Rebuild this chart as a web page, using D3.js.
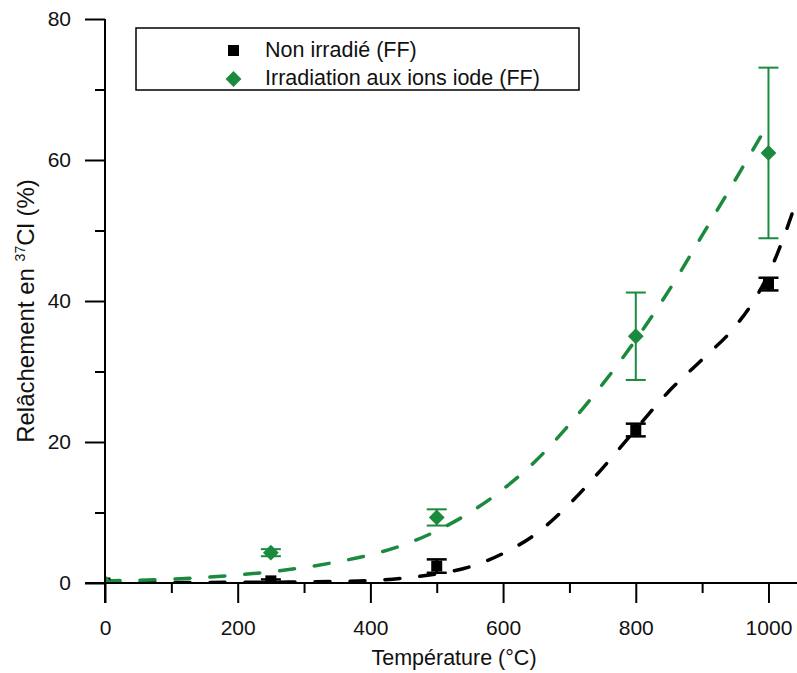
<!DOCTYPE html>
<html><head><meta charset="utf-8">
<script src="https://cdn.jsdelivr.net/npm/d3@7"></script>
<style>
body{margin:0;background:#fff;}
text{font-family:"Liberation Sans",Arial,sans-serif;fill:#111;}
</style></head>
<body><svg id="c" width="797" height="673"></svg>
<script>
// ---- data ----
const temps = [0, 250, 500, 800, 1000];
const nonIrr = [0, 0.3, 2.4, 21.7, 42.4];
const nonIrrErr = [0, 0.2, 0.95, 0.9, 0.9];
const irr = [0, 4.3, 9.3, 35.0, 61.0];
const irrErr = [0, 0.5, 1.15, 6.2, 12.1];
const fitTempsIrr = [0, 50, 100, 150, 200, 250, 300, 350, 400, 450, 500, 550, 600, 650, 700, 750, 800, 850, 900, 950, 1000];
const fitIrr = [0.3, 0.4, 0.55, 0.8, 1.15, 1.6, 2.2, 3.0, 4.0, 5.4, 7.4, 10.0, 13.3, 17.4, 22.5, 28.2, 34.5, 41.5, 49.3, 57.2, 65.2];
const fitTempsNon = [0, 100, 200, 300, 350, 400, 450, 500, 550, 600, 650, 700, 750, 800, 850, 900, 950, 975, 1000, 1020, 1045];
const fitNon = [0.05, 0.07, 0.1, 0.15, 0.22, 0.35, 0.7, 1.3, 2.3, 4.2, 7.0, 11.2, 16.3, 21.8, 27.2, 31.7, 36.4, 39.6, 43.8, 48.3, 55.0];
const xTicks = [0, 200, 400, 600, 800, 1000];
const xMinor = [100, 300, 500, 700, 900];
const yTicks = [0, 20, 40, 60, 80];
const yMinor = [10, 30, 50, 70];
const seriesNames = ["Non irradié (FF)", "Irradiation aux ions iode (FF)"];
const green = "#1b8a3e";

const svg = d3.select("#c");
const x = d3.scaleLinear().domain([0, 1043]).range([105, 797]);
const y = d3.scaleLinear().domain([0, 80]).range([583, 19]);

svg.append("defs").append("clipPath").attr("id","clip")
  .append("rect").attr("x",x(0)).attr("y",y(80)-2).attr("width",x(1043)-x(0)).attr("height",y(0)-y(80)+2);

const plot = svg.append("g").attr("clip-path","url(#clip)");
const line = d3.line().curve(d3.curveMonotoneX);

plot.append("path")
  .attr("d", line(fitTempsNon.map((t,i)=>[x(t), y(fitNon[i])])))
  .attr("fill","none").attr("stroke","#000").attr("stroke-width",3.5)
  .attr("stroke-dasharray","15,20").attr("stroke-linecap","round");
plot.append("path")
  .attr("d", line(fitTempsIrr.map((t,i)=>[x(t), y(fitIrr[i])])))
  .attr("fill","none").attr("stroke",green).attr("stroke-width",3.5)
  .attr("stroke-dasharray","15,20").attr("stroke-linecap","round");

// error bars + markers
function errBars(vals, errs, color, w){
  temps.forEach((t,i)=>{
    if(errs[i] <= 0) return;
    const g = plot.append("g").attr("stroke",color).attr("stroke-width",w);
    g.append("line").attr("x1",x(t)).attr("x2",x(t)).attr("y1",y(vals[i]-errs[i])).attr("y2",y(vals[i]+errs[i]));
    [vals[i]-errs[i], vals[i]+errs[i]].forEach(v=>{
      g.append("line").attr("x1",x(t)-10).attr("x2",x(t)+10).attr("y1",y(v)).attr("y2",y(v));
    });
  });
}
errBars(nonIrr, nonIrrErr, "#000", 2.5);
plot.selectAll(".sq").data(temps).enter().append("rect")
  .attr("x",(t)=>x(t)-5.5).attr("y",(t,i)=>y(nonIrr[i])-5.5)
  .attr("width",11).attr("height",11).attr("fill","#000");
errBars(irr, irrErr, green, 2);
const diamond = d3.symbol().type(d3.symbolDiamond2).size(160);
plot.selectAll(".dm").data(temps).enter().append("path")
  .attr("d", diamond)
  .attr("transform",(t,i)=>`translate(${x(t)},${y(irr[i])})`)
  .attr("fill",green);

// axes
const fs = "21px";
const xAx = svg.append("g").attr("transform",`translate(0,${y(0)})`)
  .call(d3.axisBottom(x).tickValues(xTicks).tickSize(20).tickPadding(17).tickSizeOuter(0).tickFormat(d3.format("d")));
const xAxMin = svg.append("g").attr("transform",`translate(0,${y(0)})`)
  .call(d3.axisBottom(x).tickValues(xMinor).tickSize(10).tickSizeOuter(0).tickFormat(""));
const yAx = svg.append("g").attr("transform",`translate(${x(0)},0)`)
  .call(d3.axisLeft(y).tickValues(yTicks).tickSize(20).tickPadding(14).tickSizeOuter(0).tickFormat(d3.format("d")));
const yAxMin = svg.append("g").attr("transform",`translate(${x(0)},0)`)
  .call(d3.axisLeft(y).tickValues(yMinor).tickSize(10).tickSizeOuter(0).tickFormat(""));
[xAx,xAxMin,yAx,yAxMin].forEach(a=>{
  a.select(".domain").remove();
  a.selectAll("line").attr("stroke","#000").attr("stroke-width",2);
  a.selectAll("text").style("font-size",fs).style("font-family","'Liberation Sans',Arial,sans-serif").attr("fill","#111");
});
svg.append("line").attr("x1",x(0)).attr("x2",x(0)).attr("y1",y(80)).attr("y2",y(0)+20).attr("stroke","#000").attr("stroke-width",2);
svg.append("line").attr("x1",x(0)-20).attr("x2",797).attr("y1",y(0)).attr("y2",y(0)).attr("stroke","#000").attr("stroke-width",2);

// titles
svg.append("text").attr("x",454).attr("y",665).attr("text-anchor","middle").style("font-size","21.5px").text("Température (°C)");
const yt = svg.append("text").attr("transform","translate(34,311) rotate(-90)").attr("text-anchor","middle").style("font-size","24px");
yt.append("tspan").text("Relâchement en ");
yt.append("tspan").text("37").style("font-size","14px").attr("dy","-9");
yt.append("tspan").text("Cl (%)").attr("dy","9");

// legend
const lg = svg.append("g");
lg.append("rect").attr("x",136).attr("y",28).attr("width",443).attr("height",62).attr("fill","#fff").attr("stroke","#000").attr("stroke-width",1.5);
lg.append("rect").attr("x",228).attr("y",45).attr("width",11).attr("height",11).attr("fill","#000");
lg.append("path").attr("d",diamond).attr("transform","translate(233.5,79)").attr("fill",green);
lg.append("text").attr("x",265).attr("y",57).style("font-size","21.5px").text(seriesNames[0]);
lg.append("text").attr("x",265).attr("y",85).style("font-size","21.5px").text(seriesNames[1]);
</script></body></html>
